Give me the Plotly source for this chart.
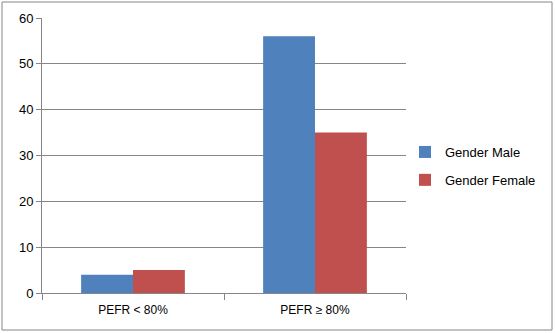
import plotly.graph_objects as go

categories = ["PEFR < 80%", "PEFR ≥ 80%"]
male = [4, 56]
female = [5, 35]
series_names = ["Gender Male", "Gender Female"]
y_ticks = [0, 10, 20, 30, 40, 50, 60]

W, H = 555, 333
L, R, T, B = 42, 406, 18, 293
pw, ph = R - L, B - T

fig = go.Figure()
fig.add_trace(go.Bar(x=categories, y=male, name=series_names[0], marker=dict(color="#4F81BD", line=dict(width=0)), legendgroup="m"))
fig.add_trace(go.Bar(x=categories, y=female, name=series_names[1], marker=dict(color="#C0504D", line=dict(width=0)), legendgroup="f"))

fig.update_layout(
    width=W, height=H,
    margin=dict(l=L, r=W - R, t=T, b=H - B, pad=0, autoexpand=False),
    paper_bgcolor="white", plot_bgcolor="white",
    barmode="group", bargap=0.43, bargroupgap=0,
    font=dict(family="Liberation Sans, Arial, sans-serif", size=12, color="#000000"),
    legend=dict(x=(405 - L) / pw, y=(B - 166) / ph, xanchor="left", yanchor="middle",
                font=dict(size=13), tracegroupgap=8, bgcolor="rgba(0,0,0,0)"),
    showlegend=True,
)
fig.update_xaxes(showline=True, linecolor="#868686", linewidth=1, ticks="outside", tickson="boundaries",
                 ticklen=6, tickcolor="#868686", showgrid=False, tickfont=dict(size=12), ticklabelstandoff=6)
fig.update_yaxes(range=[0, 60], tickvals=y_ticks, showline=True, linecolor="#868686", linewidth=1,
                 ticks="outside", ticklen=5, tickcolor="#868686", showgrid=True, gridcolor="#868686",
                 gridwidth=1, zeroline=False, tickfont=dict(size=13))
fig.add_shape(type="rect", xref="paper", yref="paper",
              x0=(2 - L) / pw, x1=(552 - L) / pw, y0=(B - 330) / ph, y1=(B - 2) / ph,
              line=dict(color="#868686", width=1), fillcolor="rgba(0,0,0,0)", layer="below")
fig.write_html("out.html", config={"displayModeBar": False},
               post_script="document.body.style.margin='0';document.body.style.overflow='hidden';")
